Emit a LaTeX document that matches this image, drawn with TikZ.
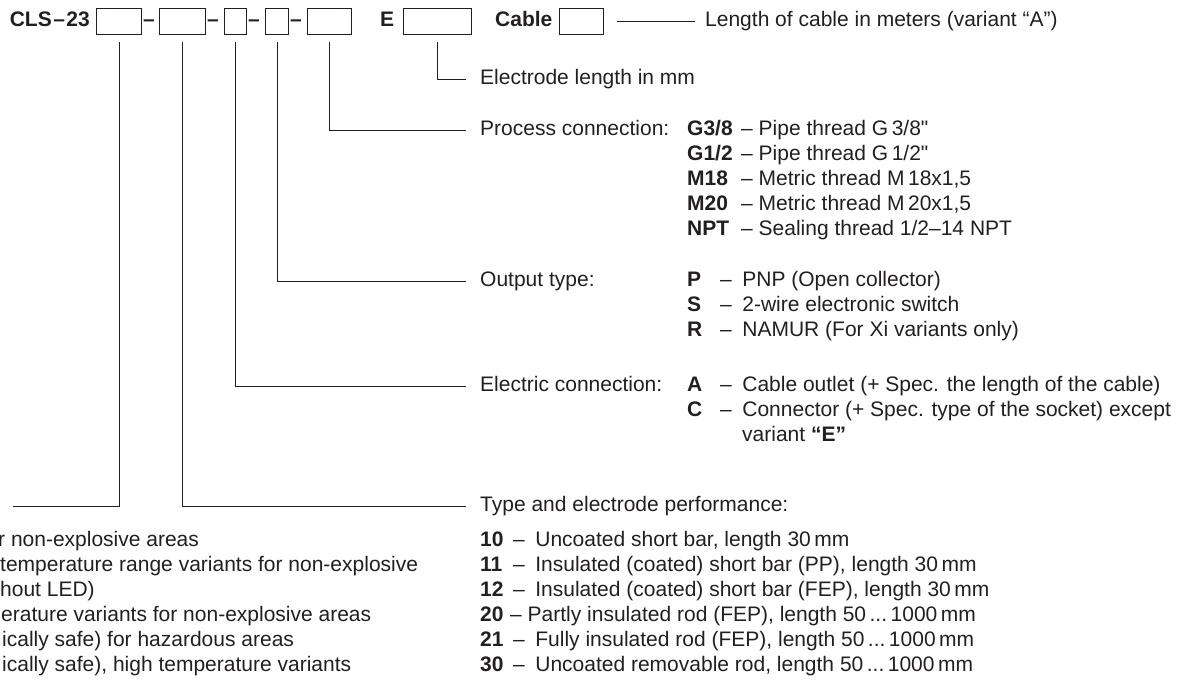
\documentclass[tikz,border=0pt]{standalone}
\usepackage{fontspec}
\setmainfont{Liberation Sans}
\usetikzlibrary{positioning}
\definecolor{ink}{RGB}{35,31,32}

\begin{document}
\begin{tikzpicture}[x=1pt,y=-1pt,
  every node/.style={inner sep=0pt, text=ink, font=\fontsize{21}{25}\selectfont,
    text height=15pt, text depth=4pt},
  field/.style={draw=ink, line width=0.9pt, minimum height=26pt},
  lead/.style={draw=ink, line width=0.9pt},
  code/.style={anchor=west, font=\fontsize{21}{25}\selectfont\bfseries},
  txt/.style={anchor=west}]
  \useasboundingbox (0,0) rectangle (1194,686);

  % order code with its fields
  \node[anchor=east, font=\fontsize{21}{25}\selectfont\bfseries] (cls) at (90,21) {CLS\kern1.5pt–\kern1.5pt23};
  \node[field, minimum width=45pt] (f1) at (119,21) {};
  \node[font=\fontsize{21}{25}\selectfont\bfseries] (d1) at (149,21) {–};
  \node[field, minimum width=46pt] (f2) at (182.5,21) {};
  \node[font=\fontsize{21}{25}\selectfont\bfseries] (d2) at (213,21) {–};
  \node[field, minimum width=22pt] (f3) at (235.5,21) {};
  \node[font=\fontsize{21}{25}\selectfont\bfseries] (d3) at (254,21) {–};
  \node[field, minimum width=23pt] (f4) at (277,21) {};
  \node[font=\fontsize{21}{25}\selectfont\bfseries] (d4) at (296,21) {–};
  \node[field, minimum width=44pt] (f5) at (329,21) {};
  \node[font=\fontsize{21}{25}\selectfont\bfseries] (eL) at (387,21) {E};
  \node[field, minimum width=68pt] (fE) at (437.5,21) {};
  \node[code] (cab) at (495,21) {Cable};
  \node[field, minimum width=44pt] (fC) at (581,21) {};

  % cable length
  \node[txt] (lenC) at (705,21) {Length of cable in meters (variant “A”)};
  \draw[lead] ([xshift=14pt]fC.east) -- ([xshift=-10pt]lenC.west);

  % electrode length
  \node[txt] (elen) at (480,79) {Electrode length in mm};
  \draw[lead] ([yshift=-8pt]fE.south) |- ([xshift=-14pt]elen.west);

  % process connection
  \node[txt] (proc) at (480,130) {Process connection:};
  \node[code] (g38) at (687,130) {G3/8};
  \node[code] (g12) at (687,155) {G1/2};
  \node[code] (m18) at (687,180) {M18};
  \node[code] (m20) at (687,205) {M20};
  \node[code] (npt) at (687,230) {NPT};
  \node[txt] (g38t) at (741,130) {– Pipe thread G\,3/8\textquotedbl};
  \node[txt] (g12t) at (741,155) {– Pipe thread G\,1/2\textquotedbl};
  \node[txt] (m18t) at (741,180) {– Metric thread M\,18x1,5};
  \node[txt] (m20t) at (741,205) {– Metric thread M\,20x1,5};
  \node[txt] (nptt) at (741,230) {– Sealing thread 1/2–14 NPT};
  \draw[lead] ([yshift=-8pt]f5.south) |- ([xshift=-14pt]proc.west);

  % output type
  \node[txt] (outp) at (480,281) {Output type:};
  \node[code] (oP) at (687,281) {P};
  \node[code] (oS) at (687,306) {S};
  \node[code] (oR) at (687,331) {R};
  \node[txt] (oPt) at (720,281) {–\enspace PNP (Open collector)};
  \node[txt] (oSt) at (720,306) {–\enspace 2-wire electronic switch};
  \node[txt] (oRt) at (720,331) {–\enspace NAMUR (For Xi variants only)};
  \draw[lead] ([yshift=-8pt]f4.south) |- ([xshift=-14pt]outp.west);

  % electric connection
  \node[txt] (elc) at (480,386) {Electric connection:};
  \node[code] (cA) at (687,386) {A};
  \node[code] (cC) at (687,411) {C};
  \node[txt] (cAt) at (720,386) {–\enspace Cable outlet (+ Spec. the length of the cable)};
  \node[txt] (cCt) at (720,411) {–\enspace Connector (+ Spec. type of the socket) except};
  \node[txt] (cCv) at (742,436) {variant \textbf{“E”}};
  \draw[lead] ([yshift=-8pt]f3.south) |- ([xshift=-14pt]elc.west);

  % type and electrode performance
  \node[txt] (typ) at (480,506) {Type and electrode performance:};
  \node[code] (t10) at (480,541) {10};
  \node[code] (t11) at (480,566) {11};
  \node[code] (t12) at (480,591) {12};
  \node[code] (t20) at (480,616) {20};
  \node[code] (t21) at (480,641) {21};
  \node[code] (t30) at (480,666) {30};
  \node[txt] (t10t) at (513,541) {–\enspace Uncoated short bar, length 30\,mm};
  \node[txt] (t11t) at (513,566) {–\enspace Insulated (coated) short bar (PP), length 30\,mm};
  \node[txt] (t12t) at (513,591) {–\enspace Insulated (coated) short bar (FEP), length 30\,mm};
  \node[txt] (t20t) at (510,616) {– Partly insulated rod (FEP), length 50\,...\,1000\,mm};
  \node[txt] (t21t) at (513,641) {–\enspace Fully insulated rod (FEP), length 50\,...\,1000\,mm};
  \node[txt] (t30t) at (513,666) {–\enspace Uncoated removable rod, length 50\,...\,1000\,mm};
  \draw[lead] ([yshift=-8pt]f2.south) |- ([xshift=-14pt]typ.west);

  % first field, cut at the left edge
  \coordinate (endL) at (13,506);
  \draw[lead] ([yshift=-8pt]f1.south) |- (endL);
  \node[txt] (v1) at (-2,541) {r non-explosive areas};
  \node[txt] (v2) at (0,566) {temperature range variants for non-explosive};
  \node[txt] (v3) at (0,591) {hout LED)};
  \node[txt] (v4) at (1,616) {erature variants for non-explosive areas};
  \node[txt] (v5) at (2,641) {ically safe) for hazardous areas};
  \node[txt] (v6) at (2,666) {ically safe), high temperature variants};
\end{tikzpicture}
\end{document}
